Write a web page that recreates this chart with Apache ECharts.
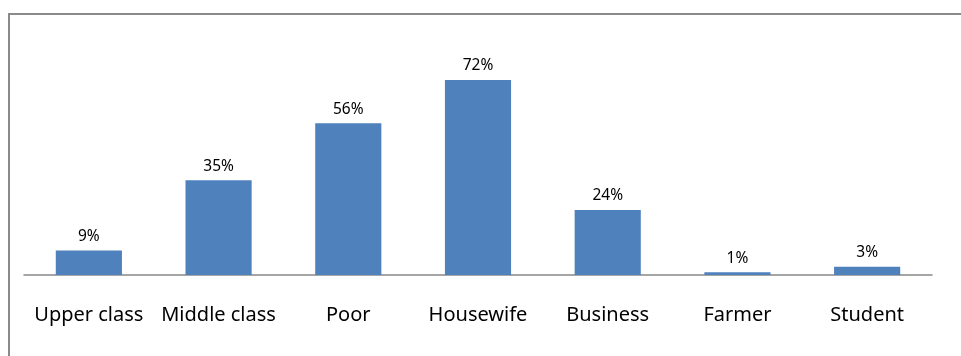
<!DOCTYPE html>
<html><head><meta charset="utf-8">
<script src="https://cdn.jsdelivr.net/npm/echarts@6/dist/echarts.min.js"></script>
<style>html,body{margin:0;padding:0;background:#fff}#c{width:961px;height:356px}</style>
</head><body><div id="c"></div>
<script>
const categories = ['Upper class', 'Middle class', 'Poor', 'Housewife', 'Business', 'Farmer', 'Student'];
const values = [9, 35, 56, 72, 24, 1, 3];

const chart = echarts.init(document.getElementById('c'), null, {renderer: 'canvas'});
chart.setOption({
  animation: false,
  backgroundColor: '#fff',
  graphic: [{
    type: 'rect', z: 100,
    shape: {x: 9, y: 14, width: 1000, height: 400},
    style: {fill: 'none', stroke: '#8a8a8a', lineWidth: 2}
  }],
  grid: {left: 24, right: 29, top: 4, bottom: 81, containLabel: false},
  xAxis: {
    type: 'category', data: categories,
    axisLine: {lineStyle: {color: '#888', width: 1.5}},
    axisTick: {show: false},
    axisLabel: {color: '#000', fontFamily: 'Noto Sans', fontSize: 20, margin: 30, interval: 0}
  },
  yAxis: {
    type: 'value', min: 0, max: 100,
    show: false,
    splitLine: {show: false}
  },
  series: [{
    type: 'bar', data: values, barWidth: '51%',
    itemStyle: {color: '#4F81BD'},
    label: {show: true, position: 'top', distance: 6, formatter: '{c}%', color: '#000', fontFamily: 'Noto Sans', fontSize: 15.5}
  }]
});
</script></body></html>
